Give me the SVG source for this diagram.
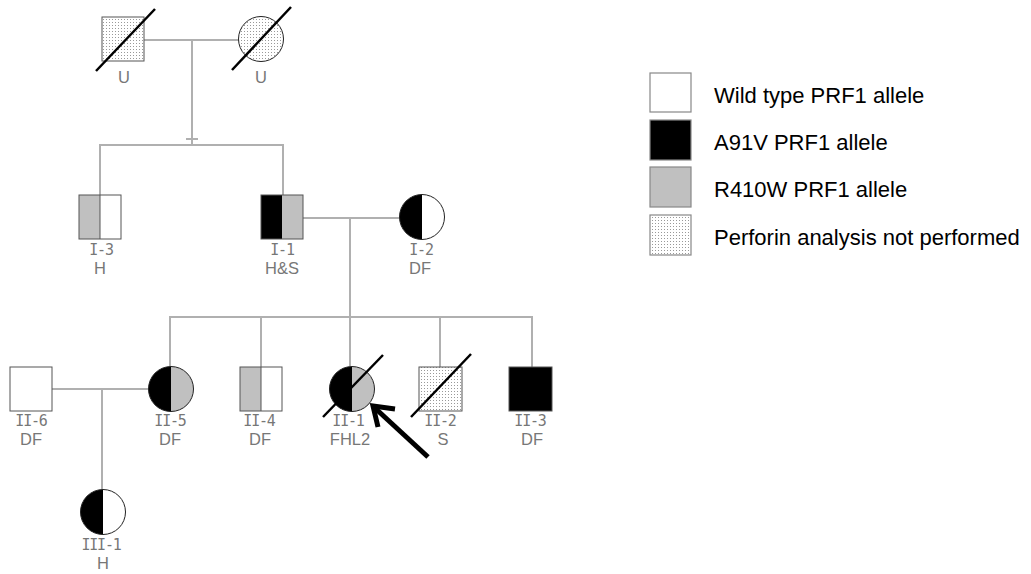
<svg xmlns="http://www.w3.org/2000/svg" width="1031" height="574" viewBox="0 0 1031 574">
<style>
.ln{stroke:#b0b0b0;stroke-width:2;fill:none}
.sq{stroke:#555;stroke-width:1}
.ci{stroke:#222;stroke-width:1}
.sl{stroke:#000;stroke-width:2.5;fill:none}
.id{font-family:"DejaVu Sans Mono","Liberation Mono",monospace;font-size:15px;letter-spacing:-1.2px;fill:#777;text-anchor:middle}
.st{font-family:"Liberation Sans",Arial,sans-serif;font-size:16.5px;fill:#777;text-anchor:middle}
.lg{font-family:"Liberation Sans",Arial,sans-serif;font-size:22px;fill:#000}
.lb{stroke:#888;stroke-width:1.2}
</style>
<defs>
<pattern id="dots" width="3" height="3" patternUnits="userSpaceOnUse">
<rect width="3" height="3" fill="#fff"/>
<rect x="1" y="1" width="1" height="1" fill="#999"/>
</pattern>
</defs>
<rect width="1031" height="574" fill="#fff"/>
<g id="connectors">
<path class="ln" d="M144 40H239"/>
<path class="ln" d="M192 40V145"/>
<path class="ln" d="M186 139H198"/>
<path class="ln" d="M100 195V145H283V195"/>
<path class="ln" d="M303 218H400"/>
<path class="ln" d="M350 218V317"/>
<path class="ln" d="M170 366V317H532V367"/>
<path class="ln" d="M261 317V367"/>
<path class="ln" d="M350 317V366"/>
<path class="ln" d="M440 317V367"/>
<path class="ln" d="M52 389H149"/>
<path class="ln" d="M102 389V489"/>
</g>
<g id="gen0-father">
<rect class="sq" x="102" y="17" width="42" height="44" fill="url(#dots)"/>
<path class="sl" d="M96 71L155 9"/>
<text class="st" x="124" y="83">U</text>
</g>
<g id="gen0-mother">
<circle class="ci" cx="261" cy="39" r="22.5" fill="url(#dots)"/>
<path class="sl" d="M232 70L291 7"/>
<text class="st" x="261" y="83">U</text>
</g>
<g id="I-3">
<rect x="79" y="195" width="21" height="44" fill="#c0c0c0"/>
<rect class="sq" x="79" y="195" width="42" height="44" fill="none"/>
<path d="M100 195V239" stroke="#555" stroke-width="1"/>
<text class="id" x="101" y="255">I-3</text>
<text class="st" x="100" y="274">H</text>
</g>
<g id="I-1">
<rect x="261" y="195" width="21" height="44" fill="#000"/>
<rect x="282" y="195" width="21" height="44" fill="#c0c0c0"/>
<rect class="sq" x="261" y="195" width="42" height="44" fill="none"/>
<text class="id" x="282" y="255">I-1</text>
<text class="st" x="282" y="274">H&amp;S</text>
</g>
<g id="I-2">
<circle cx="422" cy="217" r="22.5" fill="#fff"/>
<path d="M422 194.5A22.5 22.5 0 0 0 422 239.5Z" fill="#000"/>
<circle class="ci" cx="422" cy="217" r="22.5" fill="none"/>
<text class="id" x="421" y="255">I-2</text>
<text class="st" x="420" y="274">DF</text>
</g>
<g id="II-6">
<rect class="sq" x="10" y="367" width="42" height="44" fill="#fff"/>
<text class="id" x="31" y="426">II-6</text>
<text class="st" x="31" y="445">DF</text>
</g>
<g id="II-5">
<circle cx="171" cy="389" r="22.5" fill="#c0c0c0"/>
<path d="M171 366.5A22.5 22.5 0 0 0 171 411.5Z" fill="#000"/>
<circle class="ci" cx="171" cy="389" r="22.5" fill="none"/>
<text class="id" x="170" y="426">II-5</text>
<text class="st" x="170" y="445">DF</text>
</g>
<g id="II-4">
<rect x="240" y="367" width="21" height="44" fill="#c0c0c0"/>
<rect class="sq" x="240" y="367" width="42" height="44" fill="none"/>
<path d="M261 367V411" stroke="#555" stroke-width="1"/>
<text class="id" x="259" y="426">II-4</text>
<text class="st" x="260" y="445">DF</text>
</g>
<g id="II-1">
<circle cx="352" cy="389" r="22.5" fill="#c0c0c0"/>
<path d="M352 366.5A22.5 22.5 0 0 0 352 411.5Z" fill="#000"/>
<circle class="ci" cx="352" cy="389" r="22.5" fill="none"/>
<path class="sl" d="M323 417L383 355"/>
<text class="id" x="348" y="426">II-1</text>
<text class="st" x="350" y="445">FHL2</text>
</g>
<g id="II-2">
<rect class="sq" x="419" y="367" width="43" height="44" fill="url(#dots)"/>
<path class="sl" d="M411 417L471 354"/>
<text class="id" x="440" y="426">II-2</text>
<text class="st" x="443" y="445">S</text>
</g>
<g id="II-3">
<rect class="sq" x="509" y="367" width="43" height="44" fill="#000"/>
<text class="id" x="530" y="426">II-3</text>
<text class="st" x="532" y="445">DF</text>
</g>
<g id="III-1">
<circle cx="103" cy="512" r="22.5" fill="#fff"/>
<path d="M103 489.5A22.5 22.5 0 0 0 103 534.5Z" fill="#000"/>
<circle class="ci" cx="103" cy="512" r="22.5" fill="none"/>
<text class="id" x="101" y="550">III-1</text>
<text class="st" x="103" y="569">H</text>
</g>
<g id="proband-arrow">
<path d="M428 457L376 409" stroke="#000" stroke-width="5" fill="none"/>
<path d="M378 427L373 406L395 409" stroke="#000" stroke-width="5" fill="none" stroke-linejoin="miter"/>
</g>
<g id="legend">
<rect class="lb" x="650" y="73" width="41" height="39" fill="#fff"/>
<text class="lg" x="714" y="103">Wild type PRF1 allele</text>
<rect class="lb" x="650" y="120" width="41" height="40" fill="#000"/>
<text class="lg" x="714" y="150">A91V PRF1 allele</text>
<rect class="lb" x="650" y="167" width="41" height="40" fill="#c0c0c0"/>
<text class="lg" x="714" y="197">R410W PRF1 allele</text>
<rect class="lb" x="650" y="215" width="41" height="40" fill="url(#dots)"/>
<text class="lg" x="714" y="245">Perforin analysis not performed</text>
</g>
</svg>
